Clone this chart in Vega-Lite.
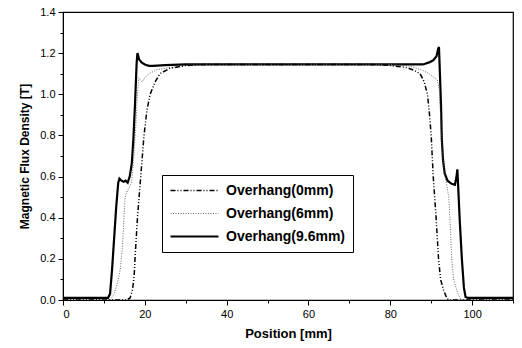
{
  "$schema": "https://vega.github.io/schema/vega-lite/v6.json",
  "width": 450,
  "height": 288,
  "autosize": {"type": "none"},
  "padding": {"left": 63, "top": 12, "right": 9, "bottom": 48},
  "background": "white",
  "config": {
    "font": "Liberation Sans",
    "view": {"stroke": "black", "strokeWidth": 1.2},
    "axis": {"domainColor": "black", "tickColor": "black", "labelColor": "black", "titleColor": "black", "grid": false, "labelFontSize": 11, "titleFontWeight": "bold"},
    "legend": {"title": null, "orient": "none", "legendX": 99, "legendY": 163, "strokeColor": "black", "fillColor": "white",
        "padding": 7, "symbolType": "stroke", "symbolSize": 2304, "clipHeight": 17, "labelFontSize": 14, "labelFontWeight": "bold",
        "labelOffset": 6, "rowPadding": 6, "labelLimit": 300, "labelColor": "black", "symbolOpacity": 1}
  },
  "data": {"values": [
    {"s":"Overhang(9.6mm)","x":0,"y":0.01},{"s":"Overhang(9.6mm)","x":11.0,"y":0.01},{"s":"Overhang(9.6mm)","x":11.5,"y":0.03},{"s":"Overhang(9.6mm)","x":12.0,"y":0.15},{"s":"Overhang(9.6mm)","x":12.5,"y":0.3},{"s":"Overhang(9.6mm)","x":13.0,"y":0.45},{"s":"Overhang(9.6mm)","x":13.5,"y":0.57},{"s":"Overhang(9.6mm)","x":13.8,"y":0.59},{"s":"Overhang(9.6mm)","x":14.3,"y":0.58},{"s":"Overhang(9.6mm)","x":14.8,"y":0.575},{"s":"Overhang(9.6mm)","x":15.3,"y":0.58},{"s":"Overhang(9.6mm)","x":15.8,"y":0.57},{"s":"Overhang(9.6mm)","x":16.3,"y":0.6},{"s":"Overhang(9.6mm)","x":16.8,"y":0.66},{"s":"Overhang(9.6mm)","x":17.2,"y":0.78},{"s":"Overhang(9.6mm)","x":17.6,"y":0.95},{"s":"Overhang(9.6mm)","x":18.0,"y":1.15},{"s":"Overhang(9.6mm)","x":18.2,"y":1.2},{"s":"Overhang(9.6mm)","x":18.6,"y":1.17},{"s":"Overhang(9.6mm)","x":19.2,"y":1.155},{"s":"Overhang(9.6mm)","x":20.0,"y":1.145},{"s":"Overhang(9.6mm)","x":21.0,"y":1.138},{"s":"Overhang(9.6mm)","x":22.0,"y":1.138},{"s":"Overhang(9.6mm)","x":25,"y":1.142},{"s":"Overhang(9.6mm)","x":30,"y":1.145},{"s":"Overhang(9.6mm)","x":50,"y":1.145},{"s":"Overhang(9.6mm)","x":70,"y":1.145},{"s":"Overhang(9.6mm)","x":88,"y":1.145},{"s":"Overhang(9.6mm)","x":89.5,"y":1.155},{"s":"Overhang(9.6mm)","x":90.5,"y":1.165},{"s":"Overhang(9.6mm)","x":91.3,"y":1.185},{"s":"Overhang(9.6mm)","x":91.7,"y":1.22},{"s":"Overhang(9.6mm)","x":91.9,"y":1.23},{"s":"Overhang(9.6mm)","x":92.1,"y":1.12},{"s":"Overhang(9.6mm)","x":92.4,"y":0.95},{"s":"Overhang(9.6mm)","x":92.6,"y":0.78},{"s":"Overhang(9.6mm)","x":92.9,"y":0.68},{"s":"Overhang(9.6mm)","x":93.3,"y":0.615},{"s":"Overhang(9.6mm)","x":94.0,"y":0.58},{"s":"Overhang(9.6mm)","x":95.0,"y":0.565},{"s":"Overhang(9.6mm)","x":95.8,"y":0.56},{"s":"Overhang(9.6mm)","x":96.2,"y":0.6},{"s":"Overhang(9.6mm)","x":96.4,"y":0.635},{"s":"Overhang(9.6mm)","x":96.6,"y":0.55},{"s":"Overhang(9.6mm)","x":97.0,"y":0.38},{"s":"Overhang(9.6mm)","x":97.5,"y":0.2},{"s":"Overhang(9.6mm)","x":98.0,"y":0.06},{"s":"Overhang(9.6mm)","x":98.4,"y":0.015},{"s":"Overhang(9.6mm)","x":99,"y":0.01},{"s":"Overhang(9.6mm)","x":110,"y":0.01},
    {"s":"Overhang(6mm)","x":0,"y":0.0},{"s":"Overhang(6mm)","x":11.5,"y":0.0},{"s":"Overhang(6mm)","x":12.5,"y":0.03},{"s":"Overhang(6mm)","x":13.3,"y":0.08},{"s":"Overhang(6mm)","x":14.0,"y":0.15},{"s":"Overhang(6mm)","x":14.5,"y":0.25},{"s":"Overhang(6mm)","x":14.9,"y":0.4},{"s":"Overhang(6mm)","x":15.2,"y":0.5},{"s":"Overhang(6mm)","x":15.7,"y":0.53},{"s":"Overhang(6mm)","x":16.3,"y":0.55},{"s":"Overhang(6mm)","x":16.8,"y":0.58},{"s":"Overhang(6mm)","x":17.3,"y":0.7},{"s":"Overhang(6mm)","x":17.8,"y":0.85},{"s":"Overhang(6mm)","x":18.2,"y":1.0},{"s":"Overhang(6mm)","x":18.5,"y":1.08},{"s":"Overhang(6mm)","x":18.9,"y":1.07},{"s":"Overhang(6mm)","x":19.3,"y":1.06},{"s":"Overhang(6mm)","x":20,"y":1.08},{"s":"Overhang(6mm)","x":21,"y":1.1},{"s":"Overhang(6mm)","x":23,"y":1.12},{"s":"Overhang(6mm)","x":26,"y":1.13},{"s":"Overhang(6mm)","x":30,"y":1.14},{"s":"Overhang(6mm)","x":35,"y":1.145},{"s":"Overhang(6mm)","x":80,"y":1.145},{"s":"Overhang(6mm)","x":84,"y":1.14},{"s":"Overhang(6mm)","x":86,"y":1.13},{"s":"Overhang(6mm)","x":88,"y":1.115},{"s":"Overhang(6mm)","x":89.5,"y":1.1},{"s":"Overhang(6mm)","x":90.5,"y":1.085},{"s":"Overhang(6mm)","x":91.5,"y":1.07},{"s":"Overhang(6mm)","x":92.0,"y":1.02},{"s":"Overhang(6mm)","x":92.4,"y":0.85},{"s":"Overhang(6mm)","x":92.8,"y":0.7},{"s":"Overhang(6mm)","x":93.2,"y":0.62},{"s":"Overhang(6mm)","x":93.8,"y":0.56},{"s":"Overhang(6mm)","x":94.3,"y":0.5},{"s":"Overhang(6mm)","x":94.7,"y":0.35},{"s":"Overhang(6mm)","x":95.0,"y":0.2},{"s":"Overhang(6mm)","x":95.5,"y":0.1},{"s":"Overhang(6mm)","x":96.2,"y":0.05},{"s":"Overhang(6mm)","x":97.0,"y":0.01},{"s":"Overhang(6mm)","x":97.5,"y":0.0},{"s":"Overhang(6mm)","x":110,"y":0.0},
    {"s":"Overhang(0mm)","x":0,"y":0.0},{"s":"Overhang(0mm)","x":15.5,"y":0.0},{"s":"Overhang(0mm)","x":16.4,"y":0.01},{"s":"Overhang(0mm)","x":17.0,"y":0.05},{"s":"Overhang(0mm)","x":17.4,"y":0.12},{"s":"Overhang(0mm)","x":17.6,"y":0.2},{"s":"Overhang(0mm)","x":18.2,"y":0.4},{"s":"Overhang(0mm)","x":19.0,"y":0.6},{"s":"Overhang(0mm)","x":19.8,"y":0.8},{"s":"Overhang(0mm)","x":20.5,"y":0.92},{"s":"Overhang(0mm)","x":21.3,"y":1.0},{"s":"Overhang(0mm)","x":22.5,"y":1.06},{"s":"Overhang(0mm)","x":23.7,"y":1.1},{"s":"Overhang(0mm)","x":26,"y":1.125},{"s":"Overhang(0mm)","x":30,"y":1.14},{"s":"Overhang(0mm)","x":35,"y":1.145},{"s":"Overhang(0mm)","x":75,"y":1.145},{"s":"Overhang(0mm)","x":80,"y":1.14},{"s":"Overhang(0mm)","x":84,"y":1.13},{"s":"Overhang(0mm)","x":86,"y":1.115},{"s":"Overhang(0mm)","x":87.3,"y":1.1},{"s":"Overhang(0mm)","x":88.3,"y":1.06},{"s":"Overhang(0mm)","x":89.1,"y":1.0},{"s":"Overhang(0mm)","x":89.6,"y":0.9},{"s":"Overhang(0mm)","x":90.0,"y":0.8},{"s":"Overhang(0mm)","x":90.5,"y":0.6},{"s":"Overhang(0mm)","x":91.2,"y":0.4},{"s":"Overhang(0mm)","x":91.8,"y":0.2},{"s":"Overhang(0mm)","x":92.3,"y":0.1},{"s":"Overhang(0mm)","x":93.0,"y":0.05},{"s":"Overhang(0mm)","x":93.6,"y":0.02},{"s":"Overhang(0mm)","x":94.2,"y":0.0},{"s":"Overhang(0mm)","x":110,"y":0.0}
  ]},
  "mark": {"type": "line", "clip": true, "opacity": 1},
  "encoding": {
    "x": {"field": "x", "type": "quantitative", "scale": {"domain": [0, 110], "nice": false},
      "axis": {"title": "Position [mm]", "titleFontSize": 13, "titlePadding": 8, "values": [0,10,20,30,40,50,60,70,80,90,100,110],
        "labelExpr": "datum.value % 20 == 0 && datum.value < 110 ? datum.label : ''",
        "tickSize": {"condition": {"test": "datum.value % 20 == 0", "value": 5}, "value": 3}, "labelPadding": 3}},
    "y": {"field": "y", "type": "quantitative", "scale": {"domain": [0, 1.4], "nice": false},
      "axis": {"title": "Magnetic Flux Density [T]", "titleFontSize": 12, "titlePadding": 8, "format": ".1f",
        "values": [0,0.1,0.2,0.3,0.4,0.5,0.6,0.7,0.8,0.9,1.0,1.1,1.2,1.3,1.4],
        "labelExpr": "abs(round(datum.value*10) % 2) < 0.5 ? datum.label : ''",
        "tickSize": {"condition": {"test": "abs(round(datum.value*10) % 2) < 0.5", "value": 5}, "value": 3}, "labelPadding": 3}},
    "color": {"field": "s", "type": "nominal", "sort": ["Overhang(0mm)","Overhang(6mm)","Overhang(9.6mm)"],
      "scale": {"domain": ["Overhang(0mm)","Overhang(6mm)","Overhang(9.6mm)"], "range": ["#000000","#555555","#000000"]}},
    "strokeDash": {"field": "s", "type": "nominal", "sort": ["Overhang(0mm)","Overhang(6mm)","Overhang(9.6mm)"],
      "scale": {"domain": ["Overhang(0mm)","Overhang(6mm)","Overhang(9.6mm)"], "range": [[5,2,1,2,1,2],[1,1.5],[2000,1]]}},
    "strokeWidth": {"field": "s", "type": "nominal", "sort": ["Overhang(0mm)","Overhang(6mm)","Overhang(9.6mm)"],
      "scale": {"type": "ordinal", "domain": ["Overhang(0mm)","Overhang(6mm)","Overhang(9.6mm)"], "range": [1.5, 0.9, 2.2]}}
  }
}
